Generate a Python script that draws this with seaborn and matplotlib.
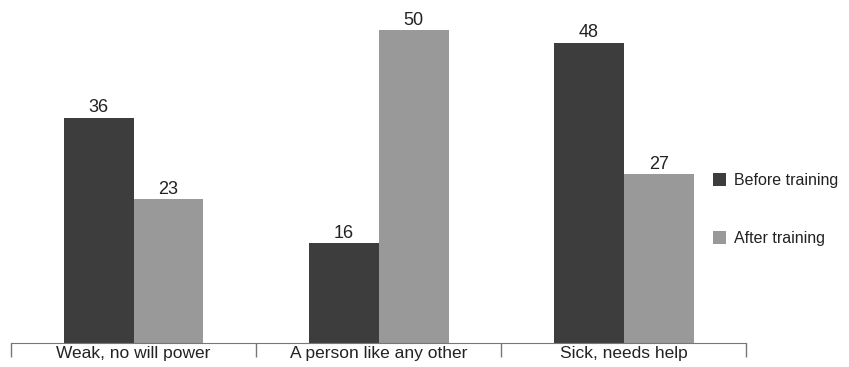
import pandas as pd
import matplotlib
matplotlib.use("Agg")
import matplotlib.pyplot as plt
import seaborn as sns

categories = ["Weak, no will power", "A person like any other", "Sick, needs help"]
before = [36, 16, 48]
after = [23, 50, 27]
series = ["Before training", "After training"]
colors = ["#3d3d3d", "#999999"]

df = pd.DataFrame({
    "Category": categories * 2,
    "Value": before + after,
    "Series": [series[0]] * 3 + [series[1]] * 3,
})

sns.set_style("white")
plt.rcParams["font.family"] = ["Liberation Sans", "DejaVu Sans"]

fig = plt.figure(figsize=(8.49, 3.67), dpi=100)
ax = fig.add_axes([0.013, 0.065, 0.866, 0.935])

sns.barplot(data=df, x="Category", y="Value", hue="Series", palette=colors,
            width=0.57, ax=ax, saturation=1, linewidth=0)

for cont in ax.containers:
    ax.bar_label(cont, fontsize=13, color="#222222", padding=1)

ax.set_ylim(0, 54.8)
ax.set_xlim(-0.5, 2.5)
ax.set_yticks([])
ax.set_xlabel("")
ax.set_ylabel("")

ax.set_xticks([-0.5, 0.5, 1.5, 2.5])
ax.set_xticklabels([])
ax.set_xticks([0, 1, 2], minor=True)
ax.set_xticklabels(categories, minor=True, fontsize=12.5, color="#222222")
ax.tick_params(axis="x", which="major", length=10, width=1, color="#777777", direction="out", bottom=True)
ax.tick_params(axis="x", which="minor", length=0, pad=2)

for s in ["top", "left", "right"]:
    ax.spines[s].set_visible(False)
ax.spines["bottom"].set_color("#777777")

leg = ax.legend(loc="center left", bbox_to_anchor=(0.832, 0.429),
                bbox_transform=fig.transFigure, frameon=False,
                fontsize=11.5, handlelength=0.85, handleheight=0.85,
                labelspacing=2.7, handletextpad=0.5, borderaxespad=0)
for t in leg.get_texts():
    t.set_color("#222222")

fig.savefig("out.png", dpi=100)
